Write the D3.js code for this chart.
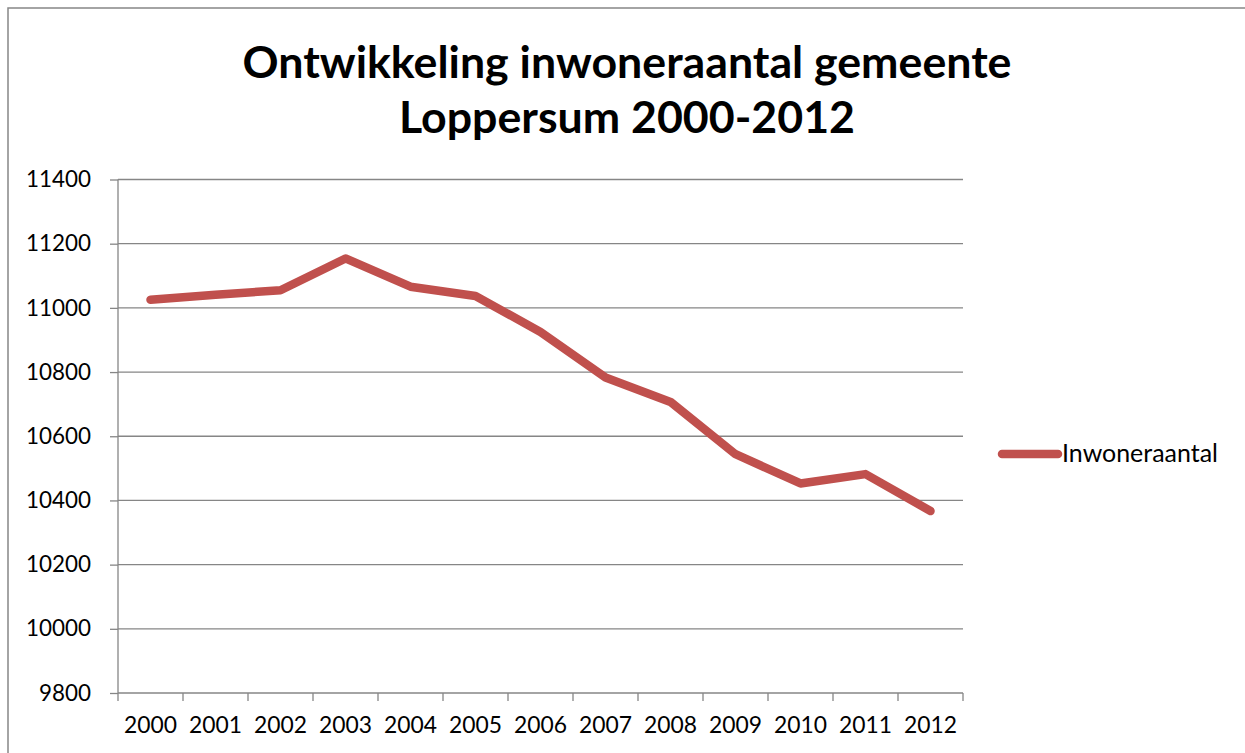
<!DOCTYPE html>
<html>
<head>
<meta charset="utf-8">
<script src="https://cdn.jsdelivr.net/npm/d3@7"></script>
<style>
  body { margin: 0; background: #fff; }
  text { font-family: Lato, "Open Sans", sans-serif; fill: #000; }
</style>
</head>
<body>
<svg id="chart" width="1245" height="753"></svg>
<script>
const years = ["2000", "2001", "2002", "2003", "2004", "2005", "2006",
  "2007", "2008", "2009", "2010", "2011", "2012"];
const inwoners = [11025, 11041, 11055, 11154, 11066, 11037, 10925,
  10783, 10707, 10544, 10453, 10482, 10367];
const yTicks = [9800, 10000, 10200, 10400, 10600, 10800, 11000, 11200, 11400];
const titleLines = ["Ontwikkeling inwoneraantal gemeente", "Loppersum 2000-2012"];
const seriesName = "Inwoneraantal";

const plot = { left: 118, right: 963, top: 179.5, bottom: 693 };
const lineColor = "#c0504d";
const gridColor = "#868686";

const svg = d3.select("#chart");

// frame round the chart (runs off the right and bottom edge)
svg.append("rect")
  .attr("x", 8).attr("y", 8)
  .attr("width", 1260).attr("height", 760)
  .attr("fill", "#fff")
  .attr("stroke", "#878787")
  .attr("stroke-width", 1.5);

// font size that makes a text element as wide as target
const fitSize = (sel, target) => {
  const size = parseFloat(sel.attr("font-size"));
  const w = sel.node().getComputedTextLength();
  return (size * target / w).toFixed(2);
};

const title = svg.append("g").attr("class", "title");
title.selectAll("text")
  .data(titleLines)
  .enter()
  .append("text")
  .attr("x", 627)
  .attr("y", (d, i) => 78 + i * 55)
  .attr("text-anchor", "middle")
  .attr("font-weight", "bold")
  .attr("font-size", 36)
  .text(d => d);
title.selectAll("text").attr("font-size", fitSize(title.select("text"), 769));

const x = d3.scaleBand()
  .domain(years)
  .range([plot.left, plot.right]);

const y = d3.scaleLinear()
  .domain([9800, 11400])
  .range([plot.bottom, plot.top]);

// gridlines
svg.append("g")
  .selectAll("line")
  .data(yTicks.filter(t => t > 9800))
  .enter()
  .append("line")
  .attr("x1", plot.left).attr("x2", plot.right)
  .attr("y1", d => y(d)).attr("y2", d => y(d))
  .attr("stroke", gridColor)
  .attr("stroke-width", 1.3);

// y axis
const yAxis = d3.axisLeft(y).tickValues(yTicks).tickSize(8).tickPadding(19)
  .tickFormat(d3.format("d"));
const gy = svg.append("g")
  .attr("transform", `translate(${plot.left},0)`)
  .call(yAxis);
gy.selectAll("path, line").attr("stroke", gridColor).attr("stroke-width", 1.3);
gy.select("path").attr("d", `M0,${plot.top}V${plot.bottom}`);
gy.selectAll("text")
  .attr("font-size", 22)
  .attr("font-family", "Lato, sans-serif")
  .attr("fill", "#000");
gy.selectAll("text").attr("font-size",
  fitSize(gy.selectAll("text").filter(d => d === 11400), 65));

// x axis, ticks between categories
const gx = svg.append("g")
  .attr("transform", `translate(0,${plot.bottom})`);
gx.append("line")
  .attr("x1", plot.left).attr("x2", plot.right)
  .attr("stroke", gridColor).attr("stroke-width", 1.3);
gx.selectAll(".tick")
  .data(years.concat(["end"]))
  .enter()
  .append("line")
  .attr("x1", (d, i) => plot.left + i * x.bandwidth())
  .attr("x2", (d, i) => plot.left + i * x.bandwidth())
  .attr("y1", 0).attr("y2", 8)
  .attr("stroke", gridColor).attr("stroke-width", 1.3);
gx.selectAll("text")
  .data(years)
  .enter()
  .append("text")
  .attr("x", d => x(d) + x.bandwidth() / 2)
  .attr("y", 40)
  .attr("text-anchor", "middle")
  .attr("font-size", 22)
  .text(d => d);
gx.selectAll("text").attr("font-size", fitSize(gx.select("text"), 53));

// the series
const line = d3.line()
  .x((d, i) => x(years[i]) + x.bandwidth() / 2)
  .y(d => y(d));

svg.append("path")
  .attr("d", line(inwoners))
  .attr("fill", "none")
  .attr("stroke", lineColor)
  .attr("stroke-width", 8.5)
  .attr("stroke-linecap", "round")
  .attr("stroke-linejoin", "round");

// legend
const legend = svg.append("g").attr("transform", "translate(1000,454)");
legend.append("line")
  .attr("x1", 2).attr("x2", 58)
  .attr("stroke", lineColor)
  .attr("stroke-width", 8.5)
  .attr("stroke-linecap", "round");
const legendText = legend.append("text")
  .attr("x", 62)
  .attr("y", 8)
  .attr("font-size", 22)
  .text(seriesName);
legendText.attr("font-size", fitSize(legendText, 156));
</script>
</body>
</html>
